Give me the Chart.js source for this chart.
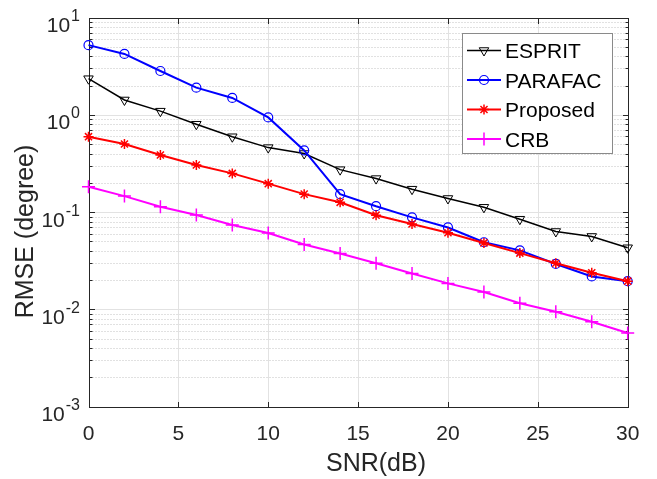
<!DOCTYPE html>
<html>
<head>
<meta charset="utf-8">
<script src="https://cdn.jsdelivr.net/npm/chart.js@4.4.0/dist/chart.umd.min.js"></script>
<style>
html,body{margin:0;padding:0;background:#fff;overflow:hidden;}
#wrap{width:657px;height:479px;position:relative;}
canvas{display:block;}
</style>
</head>
<body>
<div id="wrap"><canvas id="c" width="657" height="479"></canvas></div>
<script>
// ---- data ----
const snr = [0, 2, 4, 6, 8, 10, 12, 14, 16, 18, 20, 22, 24, 26, 28, 30];
const esprit   = [2.35, 1.42, 1.09, 0.80, 0.595, 0.46, 0.40, 0.273, 0.221, 0.172, 0.138, 0.112, 0.0845, 0.0632, 0.0562, 0.0430];
const parafac  = [5.2, 4.22, 2.82, 1.90, 1.49, 0.94, 0.43, 0.153, 0.115, 0.0883, 0.0695, 0.049, 0.0404, 0.0293, 0.0218, 0.0195];
const proposed = [0.596, 0.501, 0.386, 0.305, 0.25, 0.196, 0.153, 0.126, 0.093, 0.0755, 0.0614, 0.0482, 0.0379, 0.0298, 0.0238, 0.0195];
const crb      = [0.182, 0.146, 0.1137, 0.0934, 0.0737, 0.0610, 0.0465, 0.0375, 0.0298, 0.0234, 0.0185, 0.0151, 0.01155, 0.00946, 0.00747, 0.00572];
const seriesNames = ['ESPRIT', 'PARAFAC', 'Proposed', 'CRB'];
const xTickLabels = [0, 5, 10, 15, 20, 25, 30];
const yTickExponents = [1, 0, -1, -2, -3];
const xTitle = 'SNR(dB)';
const yTitle = 'RMSE (degree)';

const FONT = "'Liberation Sans', Arial, Helvetica, sans-serif";
const AXC = '#262626';

function pts(arr) { return arr.map((v, i) => ({ x: snr[i], y: v })); }

const styles = [
  { color: '#000000', lw: 1.5, ps: 'triangle', rot: 180, r: 5.5, pbw: 1 },
  { color: '#0000ff', lw: 2, ps: 'circle', rot: 0, r: 4.5, pbw: 1.2 },
  { color: '#ff0000', lw: 2, ps: 'star', rot: 0, r: 5, pbw: 1.5 },
  { color: '#ff00ff', lw: 2, ps: 'cross', rot: 0, r: 6.5, pbw: 1.5 }
];
const seriesData = [esprit, parafac, proposed, crb];

const datasets = seriesData.map((arr, i) => ({
  label: seriesNames[i],
  data: pts(arr),
  borderColor: styles[i].color,
  borderWidth: styles[i].lw,
  backgroundColor: 'rgba(0,0,0,0)',
  pointStyle: styles[i].ps,
  pointRotation: styles[i].rot,
  pointRadius: styles[i].r,
  pointHoverRadius: styles[i].r,
  pointBorderWidth: styles[i].pbw,
  pointBorderColor: styles[i].color,
  pointBackgroundColor: 'rgba(0,0,0,0)',
  tension: 0,
  fill: false,
  clip: false,
  order: 4 - i
}));

const axesPlugin = {
  id: 'matlabAxes',
  beforeDatasetsDraw(chart) {
    const ctx = chart.ctx, xs = chart.scales.x, ys = chart.scales.y, a = chart.chartArea;
    const L = Math.round(a.left) + 0.5, R = Math.round(a.right) + 0.5;
    const T = Math.round(a.top) + 0.5, B = Math.round(a.bottom) + 0.5;
    ctx.save();
    // minor dotted grid
    ctx.strokeStyle = '#c2c2c2';
    ctx.lineWidth = 1;
    ctx.setLineDash([1, 2]);
    for (let e = -3; e <= 0; e++) {
      for (let m = 2; m <= 9; m++) {
        const y = Math.round(ys.getPixelForValue(m * Math.pow(10, e))) + 0.5;
        ctx.beginPath(); ctx.moveTo(L, y); ctx.lineTo(R, y); ctx.stroke();
      }
    }
    ctx.setLineDash([]);
    // major grid
    ctx.strokeStyle = '#e2e2e2';
    xTickLabels.forEach(v => {
      if (v <= 0 || v >= 30) return;
      const x = Math.round(xs.getPixelForValue(v)) + 0.5;
      ctx.beginPath(); ctx.moveTo(x, T); ctx.lineTo(x, B); ctx.stroke();
    });
    yTickExponents.forEach(e => {
      if (e >= 1 || e <= -3) return;
      const y = Math.round(ys.getPixelForValue(Math.pow(10, e))) + 0.5;
      ctx.beginPath(); ctx.moveTo(L, y); ctx.lineTo(R, y); ctx.stroke();
    });
    // box
    ctx.strokeStyle = AXC;
    ctx.lineWidth = 1;
    ctx.strokeRect(L, T, R - L, B - T);
    // ticks
    ctx.beginPath();
    xTickLabels.forEach(v => {
      const x = Math.round(xs.getPixelForValue(v)) + 0.5;
      ctx.moveTo(x, B); ctx.lineTo(x, B - 5.5);
      ctx.moveTo(x, T); ctx.lineTo(x, T + 5.5);
    });
    yTickExponents.forEach(e => {
      const y = Math.round(ys.getPixelForValue(Math.pow(10, e))) + 0.5;
      ctx.moveTo(L, y); ctx.lineTo(L + 5.5, y);
      ctx.moveTo(R, y); ctx.lineTo(R - 5.5, y);
    });
    for (let e = -3; e <= 0; e++) {
      for (let m = 2; m <= 9; m++) {
        const y = Math.round(ys.getPixelForValue(m * Math.pow(10, e))) + 0.5;
        ctx.moveTo(L, y); ctx.lineTo(L + 3, y);
        ctx.moveTo(R, y); ctx.lineTo(R - 3, y);
      }
    }
    ctx.stroke();
    // x tick labels
    ctx.fillStyle = AXC;
    ctx.font = '21px ' + FONT;
    ctx.textAlign = 'center';
    ctx.textBaseline = 'alphabetic';
    xTickLabels.forEach(v => {
      ctx.fillText(String(v), xs.getPixelForValue(v), 440);
    });
    // y tick labels 10^e
    yTickExponents.forEach(e => {
      const y = ys.getPixelForValue(Math.pow(10, e));
      const sup = String(e);
      ctx.font = '16px ' + FONT;
      const sw = ctx.measureText(sup).width;
      ctx.font = '21px ' + FONT;
      const bw = ctx.measureText('10').width;
      const right = 80;
      ctx.textAlign = 'left';
      ctx.fillText('10', right - sw - bw - 1, y + 14.5);
      ctx.font = '16px ' + FONT;
      ctx.fillText(sup, right - sw, y + 3.5);
    });
    // axis titles
    ctx.font = '25px ' + FONT;
    ctx.textAlign = 'center';
    ctx.fillText(xTitle, 376, 471);
    ctx.save();
    ctx.translate(33.3, 231.5);
    ctx.rotate(-Math.PI / 2);
    ctx.fillText(yTitle, 0, 0);
    ctx.restore();
    ctx.restore();
  },
  afterDatasetsDraw(chart) {
    const ctx = chart.ctx;
    ctx.save();
    // legend box
    ctx.fillStyle = '#ffffff';
    ctx.fillRect(462.5, 33.5, 150, 120);
    ctx.strokeStyle = '#8a8a8a';
    ctx.lineWidth = 1;
    ctx.strokeRect(462.5, 33.5, 150, 120);
    const rows = [50.5, 80, 109.5, 139];
    seriesNames.forEach((name, i) => {
      const s = styles[i];
      const y = rows[i];
      ctx.strokeStyle = s.color;
      ctx.lineWidth = s.lw;
      ctx.beginPath(); ctx.moveTo(467, y); ctx.lineTo(501, y); ctx.stroke();
      ctx.fillStyle = 'rgba(0,0,0,0)';
      ctx.lineWidth = s.pbw;
      Chart.helpers.drawPoint(ctx, { pointStyle: s.ps, rotation: s.rot, radius: s.r, borderWidth: s.pbw }, 484, y);
      ctx.fillStyle = '#000000';
      ctx.font = '21px ' + FONT;
      ctx.textAlign = 'left';
      ctx.textBaseline = 'alphabetic';
      ctx.fillText(name, 505, y + 7.5);
    });
    ctx.restore();
  }
};

new Chart(document.getElementById('c'), {
  type: 'line',
  data: { datasets },
  options: {
    responsive: false,
    animation: false,
    devicePixelRatio: 1,
    events: [],
    layout: { padding: { left: 88.5, right: 29.3, top: 17.5, bottom: 72.3 } },
    scales: {
      x: { type: 'linear', min: 0, max: 30, display: false },
      y: { type: 'logarithmic', min: 0.001, max: 10, display: false }
    },
    plugins: { legend: { display: false }, tooltip: { enabled: false } }
  },
  plugins: [axesPlugin]
});
</script>
</body>
</html>
